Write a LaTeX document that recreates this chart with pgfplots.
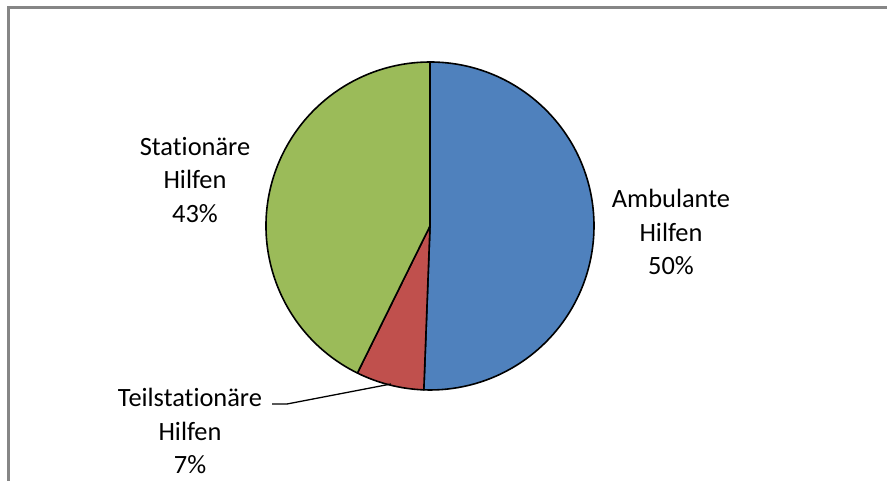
\documentclass[border=0pt]{standalone}
\usepackage{pgfplots}
\pgfplotsset{compat=1.18}
\usepackage{fontspec}
\setmainfont{Carlito}[Ligatures=NoCommon]
\definecolor{cBlue}{HTML}{4F81BD}
\definecolor{cRed}{HTML}{C0504D}
\definecolor{cGreen}{HTML}{9BBB59}
\definecolor{cFrame}{HTML}{868686}
\tikzset{lbl/.style={align=center, font=\fontsize{26.5}{34}\selectfont, text=black, inner sep=0pt}}
% shares in percent
\def\vA{50.6}% Ambulante Hilfen
\def\vB{6.7}%  Teilstationaere Hilfen
\def\vC{42.7}% Stationaere Hilfen
\begin{document}
\begin{tikzpicture}
\path[use as bounding box] (0,0) rectangle (887bp,481bp);
\begin{axis}[
  at={(0,0)}, anchor=south west,
  width=887bp, height=481bp, scale only axis,
  xmin=0, xmax=887, ymin=0, ymax=481,
  hide axis, clip=true,
]
% frame
\draw[cFrame, line width=2.2bp] (axis cs:8.5,-10) -- (axis cs:8.5,473.5) -- (axis cs:900,473.5);
% pie
\pgfmathsetmacro{\aA}{90-\vA*3.6}
\pgfmathsetmacro{\aB}{\aA-\vB*3.6}
\pgfmathsetmacro{\aC}{\aB-\vC*3.6}
\filldraw[fill=cBlue, draw=black, line width=1.6bp, line join=round]
  (axis cs:430,255) -- ++(90:164bp) arc[start angle=90, end angle=\aA, radius=164bp] -- cycle;
\filldraw[fill=cRed, draw=black, line width=1.6bp, line join=round]
  (axis cs:430,255) -- ++(\aA:164bp) arc[start angle=\aA, end angle=\aB, radius=164bp] -- cycle;
\filldraw[fill=cGreen, draw=black, line width=1.6bp, line join=round]
  (axis cs:430,255) -- ++(\aB:164bp) arc[start angle=\aB, end angle=\aC, radius=164bp] -- cycle;
% leader line
\draw[black, line width=1.3bp] (axis cs:272,77) -- (axis cs:287,77) -- (axis cs:391,97);
% labels
\node[lbl] at (axis cs:671,249) {Ambulante\\Hilfen\\50\%};
\node[lbl] at (axis cs:195,301) {Stationäre\\Hilfen\\43\%};
\node[lbl] at (axis cs:190,50) {Teilstationäre\\Hilfen\\7\%};
\end{axis}
\end{tikzpicture}
\end{document}
